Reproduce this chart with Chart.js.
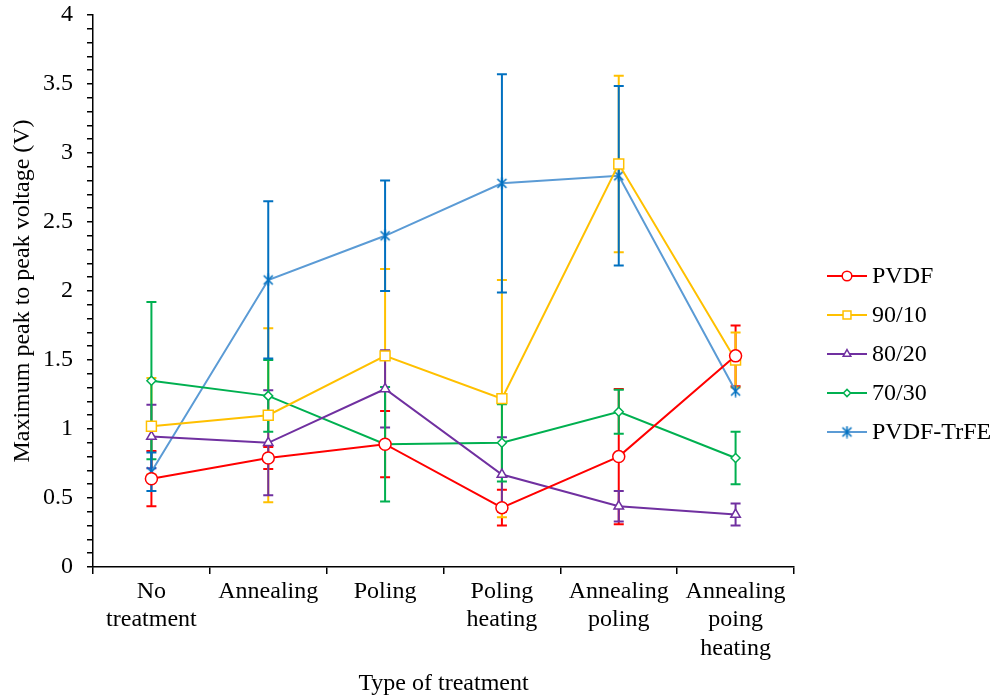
<!DOCTYPE html>
<html>
<head>
<meta charset="utf-8">
<script src="https://cdn.jsdelivr.net/npm/chart.js@4.4.1/dist/chart.umd.min.js"></script>
<style>
  html, body { margin: 0; padding: 0; background: #fff; }
  #wrap { width: 997px; height: 700px; position: relative; }
</style>
</head>
<body>
<div id="wrap"><canvas id="chart"></canvas></div>
<script>
// treatments on the x axis
var categories = [['No', 'treatment'], ['Annealing'], ['Poling'], ['Poling', 'heating'], ['Annealing', 'poling'], ['Annealing', 'poing', 'heating']];

// mean values (V) and error (+/-) per series
var pvdf = [0.64, 0.79, 0.89, 0.43, 0.80, 1.53];
var pvdfErr = [0.20, 0.08, 0.24, 0.13, 0.49, 0.22];
var r9010 = [1.02, 1.10, 1.53, 1.22, 2.92, 1.50];
var r9010Err = [0.35, 0.63, 0.63, 0.86, 0.64, 0.20];
var r8020 = [0.945, 0.90, 1.29, 0.67, 0.44, 0.38];
var r8020Err = [0.23, 0.38, 0.28, 0.27, 0.11, 0.08];
var r7030 = [1.35, 1.24, 0.89, 0.90, 1.125, 0.79];
var r7030Err = [0.57, 0.26, 0.415, 0.28, 0.16, 0.19];
var trfe = [0.69, 2.08, 2.40, 2.78, 2.835, 1.275];
var trfeErr = [0.14, 0.57, 0.40, 0.79, 0.65, 0.0];

var seriesNames = ['PVDF', '90/10', '80/20', '70/30', 'PVDF-TrFE'];

var FONT = 'Liberation Serif, "Times New Roman", serif';

// asterisk marker like the excel one
function makeStar(color) {
  var c = document.createElement('canvas');
  c.width = 13; c.height = 13;
  var g = c.getContext('2d');
  g.strokeStyle = color;
  g.lineWidth = 1.6;
  g.beginPath();
  g.moveTo(2, 2); g.lineTo(11, 11);
  g.moveTo(11, 2); g.lineTo(2, 11);
  g.moveTo(6.5, 0.5); g.lineTo(6.5, 12.5);
  g.stroke();
  return c;
}
var starMarker = makeStar('#0070C0');

function series(label, data, err, color, errColor, style, radius) {
  return {
    label: label,
    data: data,
    errors: err,
    errColor: errColor,
    borderColor: color,
    backgroundColor: color,
    borderWidth: 2,
    pointStyle: style,
    pointRadius: radius,
    pointHoverRadius: radius,
    pointBackgroundColor: '#ffffff',
    pointBorderColor: errColor,
    pointBorderWidth: 1.5,
    tension: 0
  };
}

var datasets = [
  series(seriesNames[0], pvdf, pvdfErr, '#FF0000', '#FF0000', 'circle', 6),
  series(seriesNames[1], r9010, r9010Err, '#FFC000', '#FFC000', 'rect', 7),
  series(seriesNames[2], r8020, r8020Err, '#7030A0', '#7030A0', 'triangle', 5.5),
  series(seriesNames[3], r7030, r7030Err, '#00B050', '#00B050', 'rectRot', 4.5),
  series(seriesNames[4], trfe, trfeErr, '#5B9BD5', '#0070C0', starMarker, 6)
];

// vertical error bars with caps
var errorBars = {
  id: 'errorBars',
  beforeDatasetsDraw: function(chart) {
    var ctx = chart.ctx;
    var y = chart.scales.y;
    ctx.save();
    chart.data.datasets.forEach(function(ds, di) {
      var meta = chart.getDatasetMeta(di);
      ctx.strokeStyle = ds.errColor;
      ctx.lineWidth = 2;
      for (var i = 0; i < ds.data.length; i++) {
        var e = ds.errors[i];
        if (!e) continue;
        var px = meta.data[i].x;
        var top = y.getPixelForValue(ds.data[i] + e);
        var bot = y.getPixelForValue(ds.data[i] - e);
        ctx.beginPath();
        ctx.moveTo(px, top); ctx.lineTo(px, bot);
        ctx.moveTo(px - 5, top); ctx.lineTo(px + 5, top);
        ctx.moveTo(px - 5, bot); ctx.lineTo(px + 5, bot);
        ctx.stroke();
      }
    });
    ctx.restore();
  }
};

// legend on the right, line with marker in the middle
var sideLegend = {
  id: 'sideLegend',
  afterDraw: function(chart) {
    var ctx = chart.ctx;
    ctx.save();
    ctx.font = '24px ' + FONT;
    ctx.textBaseline = 'middle';
    chart.data.datasets.forEach(function(ds, i) {
      var yy = 276 + i * 39;
      ctx.strokeStyle = ds.borderColor;
      ctx.lineWidth = 2;
      ctx.beginPath();
      ctx.moveTo(827, yy); ctx.lineTo(867, yy);
      ctx.stroke();
      ctx.fillStyle = '#ffffff';
      ctx.strokeStyle = ds.errColor;
      ctx.lineWidth = 1.5;
      Chart.helpers.drawPoint(ctx, {pointStyle: ds.pointStyle, radius: ds.pointRadius * 0.8, rotation: 0, borderWidth: 1.5}, 847, yy);
      ctx.fillStyle = '#000000';
      ctx.fillText(ds.label, 872, yy + 1);
    });
    ctx.restore();
  }
};

var chart = new Chart(document.getElementById('chart').getContext('2d'), {
  type: 'line',
  data: { labels: categories, datasets: datasets },
  plugins: [errorBars, sideLegend],
  options: {
    responsive: true,
    maintainAspectRatio: false,
    animation: false,
    layout: { padding: { left: 0, right: 203, top: 15, bottom: 0 } },
    plugins: {
      legend: { display: false },
      tooltip: { enabled: false }
    },
    scales: {
      x: {
        type: 'category',
        offset: true,
        grid: { offset: true, drawOnChartArea: false, drawTicks: true, tickLength: 7, color: '#000', lineWidth: 1.5 },
        border: { color: '#000', width: 1.5 },
        ticks: { color: '#000', font: { family: FONT, size: 24, lineHeight: 1.2 }, padding: 3, maxRotation: 0, autoSkip: false },
        title: { display: true, text: 'Type of treatment', color: '#000', font: { family: FONT, size: 24, lineHeight: 1.2 }, padding: { top: 0, bottom: 2 } },
        afterFit: function(s) { s.height = 133; s.paddingLeft = 0; s.paddingRight = 0; }
      },
      y: {
        min: 0,
        max: 4,
        grid: { drawOnChartArea: false, drawTicks: true, tickLength: 6, color: '#000', lineWidth: 1.5 },
        border: { color: '#000', width: 1.5 },
        ticks: {
          stepSize: 0.1,
          autoSkip: false,
          color: '#000',
          padding: 14,
          font: { family: FONT, size: 24 },
          callback: function(v) {
            var r = Math.round(v * 10) / 10;
            if (Math.abs(r * 2 - Math.round(r * 2)) < 1e-6) return String(r);
            return '';
          }
        },
        title: { display: true, text: 'Maximum peak to peak voltage (V)', color: '#000', font: { family: FONT, size: 24, lineHeight: 1.2 }, padding: { top: 8, bottom: 0 } },
        afterFit: function(s) { s.width = 93; s.paddingTop = 0; s.paddingBottom = 0; }
      }
    }
  }
});
</script>
</body>
</html>
